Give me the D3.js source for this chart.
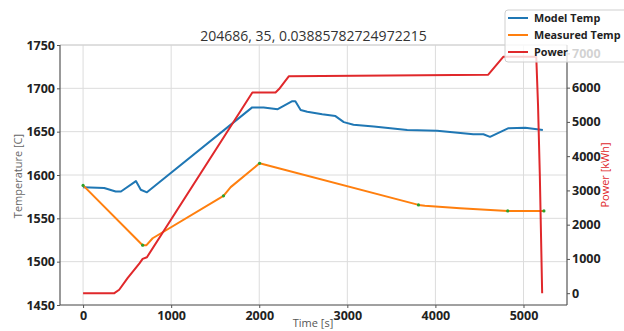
<!DOCTYPE html>
<html>
<head>
<meta charset="utf-8">
<script src="https://cdn.jsdelivr.net/npm/d3@7"></script>
<style>
  body { margin: 0; background: #fff; }
  svg { display: block; }
  .tick text { font-family: "Open Sans", sans-serif; font-weight: 700; font-size: 12.5px; fill: #222; }
</style>
</head>
<body>
<svg id="chart" width="624" height="331"></svg>
<script>
// model temperature (blue)
const modelTime = [0, 240, 370, 430, 600, 655, 725, 1920, 2050, 2210, 2370, 2410, 2470, 2545, 2715, 2865, 2960, 3070, 3300, 3680, 4020, 4430, 4545, 4620, 4830, 5020, 5220];
const modelTemp = [1586, 1585, 1581, 1581, 1593, 1583, 1580, 1678, 1678, 1676, 1685, 1685, 1675, 1673, 1670, 1668, 1661, 1658, 1656, 1652, 1651, 1647, 1647, 1644, 1654, 1654.5, 1652];

// measured temperature (orange)
const measTime = [0, 676, 720, 790, 1594, 1676, 2004, 3808, 3880, 4280, 4821, 5232];
const measTemp = [1588, 1519, 1519, 1527, 1576, 1586, 1613.5, 1565.5, 1564.5, 1561.5, 1558.5, 1558.5];

// samples (green dots)
const sampleTime = [0, 676, 1594, 2004, 3808, 4821, 5232];
const sampleTemp = [1588, 1519, 1576, 1613.5, 1565.5, 1558.5, 1558.5];

// power (red, right axis)
const powerTime = [0, 355, 410, 505, 640, 676, 725, 1922, 2185, 2225, 2335, 4600, 4770, 5145, 5165, 5185, 5212];
const powerVal = [0, 0, 100, 440, 870, 1000, 1050, 5860, 5860, 5960, 6330, 6380, 6900, 6900, 5500, 3500, 0];

const xTicks = [0, 1000, 2000, 3000, 4000, 5000];
const tempTicks = [1450, 1500, 1550, 1600, 1650, 1700, 1750];
const powerTicks = [0, 1000, 2000, 3000, 4000, 5000, 6000, 7000];

const titleText = '204686, 35, 0.03885782724972215';

const padL = 60, padR = 567, padT = 45, padB = 305;

const svg = d3.select('#chart');

const x = d3.scaleLinear().domain([-262, 5494]).range([padL, padR]);
const yT = d3.scaleLinear().domain([1450, 1750]).range([padB, padT]);
const yP = d3.scaleLinear().domain([-345, 7245]).range([padB, padT]);

// grid
const grid = svg.append('g');
grid.selectAll('.vg').data(xTicks).enter().append('line')
  .attr('x1', d => x(d)).attr('x2', d => x(d))
  .attr('y1', padT).attr('y2', padB)
  .attr('stroke', '#dcdcdc').attr('stroke-width', 1);
grid.selectAll('.hg').data(tempTicks).enter().append('line')
  .attr('x1', padL).attr('x2', padR)
  .attr('y1', d => yT(d)).attr('y2', d => yT(d))
  .attr('stroke', '#dcdcdc').attr('stroke-width', 1);

// top spine (light)
svg.append('line').attr('x1', padL).attr('x2', padR).attr('y1', padT).attr('y2', padT)
  .attr('stroke', '#d0d0d0');

// axes
const fmt = d3.format('d');
const xAxis = d3.axisBottom(x).tickValues(xTicks).tickFormat(fmt).tickSize(3).tickPadding(3);
const lAxis = d3.axisLeft(yT).tickValues(tempTicks).tickFormat(fmt).tickSize(3).tickPadding(2);
const rAxis = d3.axisRight(yP).tickValues(powerTicks).tickFormat(fmt).tickSize(3).tickPadding(2);

function styleAxis(g) {
  g.select('.domain').attr('stroke', '#555').attr('stroke-width', 1.2);
  g.selectAll('.tick line').attr('stroke', '#555');
}

svg.append('g').attr('transform', 'translate(0,' + padB + ')').call(xAxis).call(styleAxis)
  .selectAll('.domain').attr('d', 'M' + padL + ',0H' + padR);
svg.append('g').attr('transform', 'translate(' + padL + ',0)').call(lAxis).call(styleAxis)
  .selectAll('.domain').attr('d', 'M0,' + padT + 'V' + padB);
svg.append('g').attr('transform', 'translate(' + padR + ',0)').call(rAxis).call(styleAxis)
  .selectAll('.domain').attr('d', 'M0,' + padT + 'V' + padB);

// lines
const tempLine = d3.line().x(d => x(d[0])).y(d => yT(d[1]));
const powerLine = d3.line().x(d => x(d[0])).y(d => yP(d[1]));

svg.append('path')
  .datum(modelTime.map((t, i) => [t, modelTemp[i]]))
  .attr('d', tempLine).attr('fill', 'none')
  .attr('stroke', '#1f77b4').attr('stroke-width', 2).attr('stroke-linejoin', 'round');

svg.append('path')
  .datum(measTime.map((t, i) => [t, measTemp[i]]))
  .attr('d', tempLine).attr('fill', 'none')
  .attr('stroke', '#ff7f0e').attr('stroke-width', 2).attr('stroke-linejoin', 'round');

svg.selectAll('.sample').data(sampleTime.map((t, i) => [t, sampleTemp[i]])).enter()
  .append('circle')
  .attr('cx', d => x(d[0])).attr('cy', d => yT(d[1])).attr('r', 1.6)
  .attr('fill', '#2ca02c');

svg.append('path')
  .datum(powerTime.map((t, i) => [t, powerVal[i]]))
  .attr('d', powerLine).attr('fill', 'none')
  .attr('stroke', '#e0282b').attr('stroke-width', 2).attr('stroke-linejoin', 'round');

// title and labels
svg.append('text').attr('x', (padL + padR) / 2).attr('y', 41)
  .attr('text-anchor', 'middle')
  .style('font-family', '"Open Sans", sans-serif').style('font-size', '14px').attr('fill', '#333')
  .text(titleText);

svg.append('text').attr('x', 313).attr('y', 327)
  .attr('text-anchor', 'middle')
  .style('font-family', '"Open Sans", sans-serif').style('font-size', '11px').attr('fill', '#555')
  .text('Time [s]');

svg.append('text').attr('transform', 'translate(22,176) rotate(-90)')
  .attr('text-anchor', 'middle')
  .style('font-family', '"Open Sans", sans-serif').style('font-size', '11px').attr('fill', '#666')
  .text('Temperature [C]');

svg.append('text').attr('transform', 'translate(609,175) rotate(-90)')
  .attr('text-anchor', 'middle')
  .style('font-family', '"Open Sans", sans-serif').style('font-size', '11px').attr('fill', '#e0282b')
  .text('Power [kWh]');

// legend
const legendItems = [
  { name: 'Model Temp', color: '#1f77b4' },
  { name: 'Measured Temp', color: '#ff7f0e' },
  { name: 'Power', color: '#e0282b' }
];
const lg = svg.append('g').attr('transform', 'translate(505,10)');
lg.append('rect').attr('width', 130).attr('height', 52).attr('rx', 3)
  .attr('fill', 'rgba(255,255,255,0.8)').attr('stroke', '#cfcfcf');
legendItems.forEach((it, i) => {
  const yy = 8 + i * 17;
  lg.append('line').attr('x1', 3).attr('x2', 23).attr('y1', yy).attr('y2', yy)
    .attr('stroke', it.color).attr('stroke-width', 2);
  lg.append('text').attr('x', 29).attr('y', yy + 4)
    .style('font-family', '"Open Sans", sans-serif').style('font-weight', 700).style('font-size', '10.8px')
    .attr('fill', '#222').text(it.name);
});
</script>
</body>
</html>
